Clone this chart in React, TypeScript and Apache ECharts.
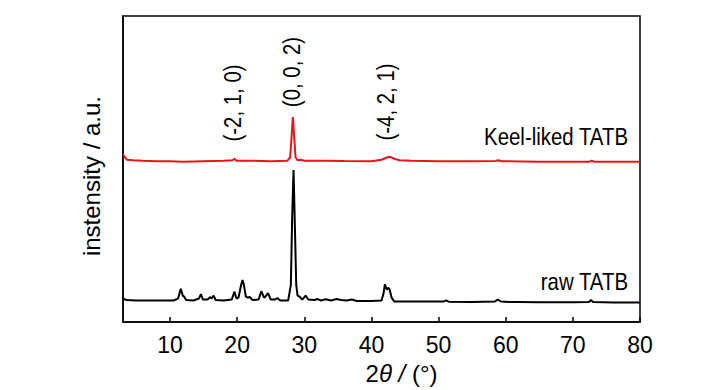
import React, { useEffect, useRef } from "react";
import * as echarts from "echarts";

const xTicks = [10, 20, 30, 40, 50, 60, 70, 80];

const rawX = [3.0, 3.5, 5, 7, 9, 10.5, 11.2, 11.6, 11.9, 12.1, 12.4, 13.5, 14.3, 14.6, 14.9, 15.6, 16.0, 16.2, 16.5, 16.8, 18, 19.2, 19.6, 19.9, 20.2, 20.6, 20.8, 21.0, 21.3, 21.6, 21.9, 22.3, 23.2, 23.6, 24.0, 24.2, 24.6, 25.0, 25.6, 26.0, 26.4, 27.6, 28.0, 28.2, 28.4, 28.6, 28.8, 29.0, 29.3, 29.7, 30.2, 30.6, 31.5, 32.0, 32.5, 33.2, 34, 34.8, 35.5, 36.3, 37.1, 37.8, 40, 41.5, 41.8, 42.0, 42.3, 42.5, 42.7, 43.0, 43.4, 46, 48, 50.8, 51.1, 51.5, 55, 58.4, 58.8, 59.3, 60.5, 62, 65, 70, 72.4, 72.7, 73.0, 76, 80];
const rawY = [24, 22.5, 22, 22, 22, 22, 24, 34, 27, 26, 22.5, 22, 24, 28.5, 23, 23, 25.5, 24, 27, 22.5, 22, 23, 31, 24, 25, 38, 43, 38, 26, 25, 25.5, 22.5, 23, 31.5, 25, 26, 29.5, 23, 23, 24.5, 22, 22, 38, 108, 155, 98, 38, 27, 26, 23, 27, 23, 22.5, 23.5, 22, 23.2, 22, 23.5, 22.5, 22, 23, 21.5, 21.5, 22, 29, 38.5, 33, 35, 33.5, 25, 21, 21, 21, 21, 22.2, 20.8, 20.5, 21, 23, 21, 20.5, 20.5, 20.2, 20.2, 20.5, 22.5, 20.5, 20, 20];

const keelX = [3.0, 3.4, 3.6, 4.5, 6, 8, 10, 12, 15, 18, 19.3, 19.6, 19.9, 22, 25, 27.5, 27.9, 28.1, 28.3, 28.5, 28.7, 29.0, 29.5, 30, 33, 36, 40, 41.5, 42.4, 42.8, 43.4, 44.2, 46, 50, 55, 58.5, 58.9, 59.4, 65, 72.5, 72.8, 73.2, 80];
const keelY = [171, 167, 165.5, 165, 164.5, 164, 164, 163.5, 164, 164.5, 165, 166.5, 164.5, 164.5, 164, 164.5, 168, 188, 209, 188, 168, 165, 165.5, 164.5, 164.5, 164.2, 164, 165.5, 168, 168.5, 166.5, 165, 164.5, 164, 164, 164.2, 165, 164, 163.5, 163.5, 164.5, 163.5, 163.5];

const seriesNames = ["Keel-liked TATB", "raw TATB"];
const peakLabels = ["(-2, 1, 0)", "(0, 0, 2)", "(-4, 2, 1)"];

const FONT = "'Liberation Sans', Arial, sans-serif";

export default function App() {
  const ref = useRef<HTMLDivElement>(null);
  useEffect(() => {
    if (!ref.current) return;
    const chart = echarts.init(ref.current, undefined, { renderer: "svg" });
    const zip = (xs: number[], ys: number[]) => xs.map((x, i) => [x, ys[i]]);
    const txt = (text: string, x: number, y: number, rot: boolean, align: string) => ({
      type: "text",
      x,
      y,
      rotation: rot ? Math.PI / 2 : 0,
      scaleX: 0.85,
      style: { text, fontSize: 24, fontFamily: FONT, fill: "#000", align, verticalAlign: "middle" },
    });
    chart.setOption({
      animation: false,
      backgroundColor: "#ffffff",
      textStyle: { fontFamily: FONT },
      grid: {
        left: 123,
        right: 87,
        top: 16,
        bottom: 62,
        show: true,
        borderColor: "#000",
        borderWidth: 1.5,
        backgroundColor: "transparent",
      },
      xAxis: {
        type: "value",
        min: 3,
        max: 80,
        interval: 10,
        axisLine: { show: true, onZero: false, lineStyle: { color: "#000", width: 1.5 } },
        axisTick: {
          show: true,
          inside: true,
          length: 5,
          lineStyle: { color: "#000", width: 1.5 },
          customValues: xTicks,
        },
        axisLabel: {
          color: "#000",
          fontSize: 23,
          fontFamily: FONT,
          margin: 11,
          customValues: xTicks,
          formatter: (v: number) => String(v),
        },
        splitLine: { show: false },
        name: "2{i|θ} {i|/} (°)",
        nameLocation: "middle",
        nameGap: 32,
        nameTextStyle: {
          color: "#000",
          fontSize: 24,
          fontFamily: FONT,
          padding: [0, 0, 0, 40],
          rich: {
            i: { fontStyle: "italic", fontSize: 24, fontFamily: FONT, color: "#000" },
          },
        },
      },
      yAxis: {
        type: "value",
        min: 0,
        max: 312,
        axisLine: { show: true, lineStyle: { color: "#000", width: 1.5 } },
        axisTick: { show: false },
        axisLabel: { show: false },
        splitLine: { show: false },
        name: "instensity / a.u.",
        nameLocation: "middle",
        nameGap: 20,
        nameTextStyle: {
          color: "#000",
          fontSize: 24,
          fontFamily: FONT,
          padding: [0, 14, 0, 0],
        },
      },
      series: [
        {
          name: seriesNames[0],
          type: "line",
          data: zip(keelX, keelY),
          showSymbol: false,
          lineStyle: { color: "#e8141b", width: 2 },
          silent: true,
        },
        {
          name: seriesNames[1],
          type: "line",
          data: zip(rawX, rawY),
          showSymbol: false,
          lineStyle: { color: "#000", width: 2 },
          silent: true,
        },
      ],
      graphic: [
        txt(peakLabels[0], 233, 103, true, "center"),
        txt(peakLabels[1], 292, 72, true, "center"),
        txt(peakLabels[2], 386, 102, true, "center"),
        txt(seriesNames[0], 628, 137, false, "right"),
        txt(seriesNames[1], 628, 282, false, "right"),
      ],
    });
    return () => chart.dispose();
  }, []);
  return <div ref={ref} style={{ width: 727, height: 390, position: "absolute", left: 0, top: 0 }} />;
}
